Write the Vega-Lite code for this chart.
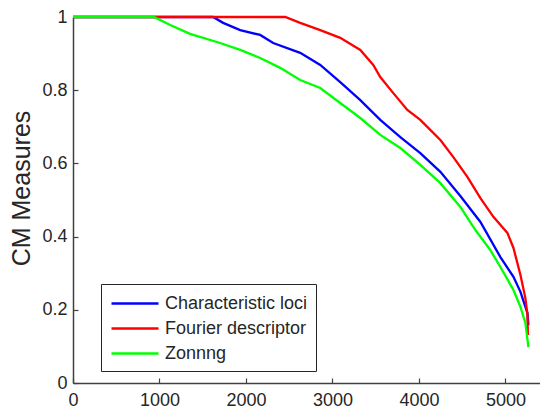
{
  "$schema": "https://vega.github.io/schema/vega-lite/v6.json",
  "width": 467,
  "height": 366,
  "autosize": {"type": "none"},
  "padding": {"left": 73, "top": 17, "right": 0, "bottom": 25},
  "background": "white",
  "config": {
    "view": {"stroke": null},
    "font": "Liberation Sans"
  },
  "data": {
    "values": [
      {"series": "Characteristic loci", "x": 0, "y": 1},
      {"series": "Characteristic loci", "x": 1620, "y": 1},
      {"series": "Characteristic loci", "x": 1736, "y": 0.984},
      {"series": "Characteristic loci", "x": 1933, "y": 0.964},
      {"series": "Characteristic loci", "x": 2164, "y": 0.951},
      {"series": "Characteristic loci", "x": 2315, "y": 0.929},
      {"series": "Characteristic loci", "x": 2627, "y": 0.902},
      {"series": "Characteristic loci", "x": 2859, "y": 0.869},
      {"series": "Characteristic loci", "x": 3090, "y": 0.822},
      {"series": "Characteristic loci", "x": 3322, "y": 0.773},
      {"series": "Characteristic loci", "x": 3553, "y": 0.719},
      {"series": "Characteristic loci", "x": 3785, "y": 0.672},
      {"series": "Characteristic loci", "x": 4016, "y": 0.628},
      {"series": "Characteristic loci", "x": 4248, "y": 0.577},
      {"series": "Characteristic loci", "x": 4479, "y": 0.511},
      {"series": "Characteristic loci", "x": 4711, "y": 0.44},
      {"series": "Characteristic loci", "x": 4942, "y": 0.344},
      {"series": "Characteristic loci", "x": 5093, "y": 0.29},
      {"series": "Characteristic loci", "x": 5174, "y": 0.249},
      {"series": "Characteristic loci", "x": 5255, "y": 0.191},
      {"series": "Characteristic loci", "x": 5266, "y": 0.158},
      {"series": "Fourier descriptor", "x": 0, "y": 1},
      {"series": "Fourier descriptor", "x": 2454, "y": 1},
      {"series": "Fourier descriptor", "x": 2627, "y": 0.984},
      {"series": "Fourier descriptor", "x": 2859, "y": 0.964},
      {"series": "Fourier descriptor", "x": 3090, "y": 0.943},
      {"series": "Fourier descriptor", "x": 3322, "y": 0.91},
      {"series": "Fourier descriptor", "x": 3472, "y": 0.869},
      {"series": "Fourier descriptor", "x": 3553, "y": 0.836},
      {"series": "Fourier descriptor", "x": 3704, "y": 0.792},
      {"series": "Fourier descriptor", "x": 3866, "y": 0.746},
      {"series": "Fourier descriptor", "x": 4016, "y": 0.719},
      {"series": "Fourier descriptor", "x": 4248, "y": 0.664},
      {"series": "Fourier descriptor", "x": 4398, "y": 0.617},
      {"series": "Fourier descriptor", "x": 4560, "y": 0.563},
      {"series": "Fourier descriptor", "x": 4711, "y": 0.505},
      {"series": "Fourier descriptor", "x": 4861, "y": 0.454},
      {"series": "Fourier descriptor", "x": 5023, "y": 0.41},
      {"series": "Fourier descriptor", "x": 5093, "y": 0.369},
      {"series": "Fourier descriptor", "x": 5174, "y": 0.295},
      {"series": "Fourier descriptor", "x": 5231, "y": 0.232},
      {"series": "Fourier descriptor", "x": 5255, "y": 0.186},
      {"series": "Fourier descriptor", "x": 5260, "y": 0.131},
      {"series": "Zonnng", "x": 0, "y": 1},
      {"series": "Zonnng", "x": 937, "y": 1},
      {"series": "Zonnng", "x": 1123, "y": 0.978},
      {"series": "Zonnng", "x": 1354, "y": 0.954},
      {"series": "Zonnng", "x": 1701, "y": 0.929},
      {"series": "Zonnng", "x": 1933, "y": 0.91},
      {"series": "Zonnng", "x": 2164, "y": 0.888},
      {"series": "Zonnng", "x": 2396, "y": 0.861},
      {"series": "Zonnng", "x": 2627, "y": 0.828},
      {"series": "Zonnng", "x": 2859, "y": 0.806},
      {"series": "Zonnng", "x": 3090, "y": 0.765},
      {"series": "Zonnng", "x": 3322, "y": 0.724},
      {"series": "Zonnng", "x": 3553, "y": 0.678},
      {"series": "Zonnng", "x": 3785, "y": 0.642},
      {"series": "Zonnng", "x": 4016, "y": 0.596},
      {"series": "Zonnng", "x": 4248, "y": 0.546},
      {"series": "Zonnng", "x": 4479, "y": 0.481},
      {"series": "Zonnng", "x": 4653, "y": 0.418},
      {"series": "Zonnng", "x": 4826, "y": 0.363},
      {"series": "Zonnng", "x": 4942, "y": 0.317},
      {"series": "Zonnng", "x": 5093, "y": 0.254},
      {"series": "Zonnng", "x": 5174, "y": 0.208},
      {"series": "Zonnng", "x": 5231, "y": 0.164},
      {"series": "Zonnng", "x": 5266, "y": 0.098}
    ]
  },
  "encoding": {
    "x": {
      "field": "x",
      "type": "quantitative",
      "scale": {"domain": [0, 5400], "nice": false, "zero": false},
      "axis": {
        "title": null,
        "values": [0, 1000, 2000, 3000, 4000, 5000],
        "format": "d",
        "grid": false,
        "domainColor": "#404040",
        "domainWidth": 1.5,
        "tickColor": "#404040",
        "tickWidth": 1.2,
        "tickSize": -5,
        "labelPadding": 13,
        "labelFontSize": 18,
        "labelColor": "#262626",
        "labelFont": "Liberation Sans",
        "labelFlush": false
      }
    },
    "y": {
      "field": "y",
      "type": "quantitative",
      "scale": {"domain": [0, 1], "nice": false},
      "axis": {
        "title": "CM Measures",
        "values": [0, 0.2, 0.4, 0.6, 0.8, 1],
        "format": "~g",
        "grid": false,
        "domainColor": "#404040",
        "domainWidth": 1.5,
        "tickColor": "#404040",
        "tickWidth": 1.2,
        "tickSize": -5,
        "labelPadding": 11,
        "labelFontSize": 18,
        "labelColor": "#262626",
        "labelFont": "Liberation Sans",
        "labelFlush": false,
        "titleFont": "Liberation Sans",
        "titleFontSize": 25,
        "titleFontWeight": "normal",
        "titleColor": "#262626",
        "titleAngle": -90,
        "titleX": -44,
        "titleY": 171,
        "titleAlign": "center",
        "titleBaseline": "alphabetic"
      }
    },
    "color": {
      "field": "series",
      "type": "nominal",
      "scale": {
        "domain": ["Characteristic loci", "Fourier descriptor", "Zonnng"],
        "range": ["#0000ff", "#ff0000", "#00ff00"]
      },
      "legend": {
        "title": null,
        "orient": "none",
        "legendX": 28,
        "legendY": 267,
        "symbolType": "M-0.9,0H3.8",
        "symbolSize": 400,
        "symbolStrokeWidth": 2.3,
        "labelFontSize": 18,
        "labelFont": "Liberation Sans",
        "labelColor": "#262626",
        "labelOffset": 33,
        "labelLimit": 300,
        "rowPadding": 4,
        "padding": 8,
        "strokeColor": "#262626",
        "fillColor": "white"
      }
    }
  },
  "layer": [
    {
      "transform": [{"filter": "datum.series === 'Characteristic loci'"}],
      "mark": {"type": "line", "strokeWidth": 2.3}
    },
    {
      "transform": [{"filter": "datum.series === 'Fourier descriptor'"}],
      "mark": {"type": "line", "strokeWidth": 2.3}
    },
    {
      "transform": [{"filter": "datum.series === 'Zonnng'"}],
      "mark": {"type": "line", "strokeWidth": 2.3}
    }
  ]
}
